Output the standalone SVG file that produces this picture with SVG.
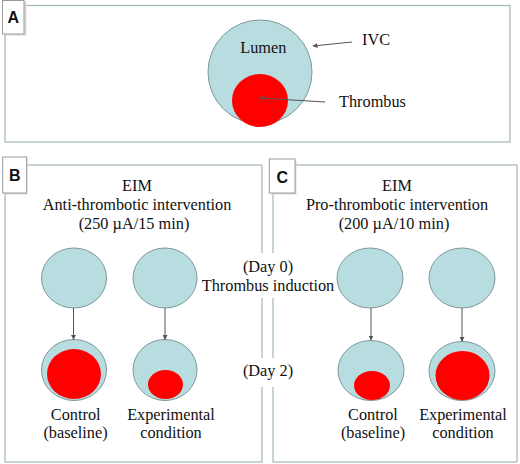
<svg xmlns="http://www.w3.org/2000/svg" width="520" height="464" viewBox="0 0 520 464">
<defs>
<marker id="ah" viewBox="0 0 10 10" refX="9" refY="5" markerWidth="5" markerHeight="5" orient="auto" markerUnits="userSpaceOnUse">
<path d="M0,0 L10,5 L0,10 z" fill="#555"/>
</marker>
<style>
.panel{fill:#fff;stroke:#a3b8b8;stroke-width:1.2}
.lab{fill:#fff;stroke:#9a9a9a;stroke-width:1}
.shadow{fill:#d8d8d8}
.labt{font-family:'Liberation Sans',Arial,sans-serif;font-weight:bold;font-size:16px;fill:#111;text-anchor:middle}
.t{font-family:'Liberation Serif','DejaVu Serif',serif;font-size:16.3px;fill:#111;text-anchor:middle}
.ts{font-family:'Liberation Serif','DejaVu Serif',serif;font-size:16.3px;fill:#111}
.ves{fill:#b8dde1;stroke:#7f9799;stroke-width:1}
.thr{fill:#ff0000}
.con{stroke:#555;stroke-width:1;fill:none;marker-end:url(#ah)}
</style>
</defs>
<rect width="520" height="464" fill="#fff"/>

<g id="panelA">
<rect class="panel" x="5" y="5.5" width="505" height="136.5"/>
<rect class="shadow" x="4.5" y="1.5" width="22" height="34"/>
<rect class="lab" x="2.5" y="0.5" width="21.5" height="33.5"/>
<text class="labt" x="13.3" y="23">A</text>
</g>
<g id="panelB">
<rect class="panel" x="5" y="165" width="257" height="297"/>
<rect class="shadow" x="4.5" y="158.5" width="23" height="36"/>
<rect class="lab" x="2.7" y="157" width="24" height="36"/>
<text class="labt" x="14.7" y="181">B</text>
<text class="t" x="137" y="190.5" font-family="Liberation Serif, serif">EIM</text>
<text class="t" x="137" y="210" font-family="Liberation Serif, serif">Anti-thrombotic intervention</text>
<text class="t" x="134" y="229.3" font-family="Liberation Serif, serif">(250 µA/15 min)</text>
</g>
<g id="panelC">
<rect class="panel" x="273" y="165" width="244" height="297"/>
<rect class="shadow" x="271" y="160.5" width="25.5" height="34"/>
<rect class="lab" x="269.3" y="159" width="25.7" height="34"/>
<text class="labt" x="282.2" y="182.5">C</text>
<text class="t" x="397" y="190.5">EIM</text>
<text class="t" x="397" y="210">Pro-thrombotic intervention</text>
<text class="t" x="394" y="229.3">(200 µA/10 min)</text>
</g>

<g id="mid-labels">
<rect x="238" y="253" width="62" height="45" fill="#fff"/>
<rect x="238" y="358" width="62" height="29" fill="#fff"/>
<text class="t" x="268" y="272">(Day 0)</text>
<text class="t" x="268" y="291">Thrombus induction</text>
<text class="t" x="268" y="376">(Day 2)</text>
</g>

<g id="ivcA">
<circle class="ves" cx="260" cy="72" r="52"/>
<ellipse class="thr" cx="260" cy="100.5" rx="28" ry="26.5"/>
<text class="t" x="263.3" y="53.3">Lumen</text>
<text class="ts" x="362" y="45">IVC</text>
<text class="ts" x="339" y="107.3">Thrombus</text>
</g>

<g id="B-ctrl-d0"><ellipse class="ves" cx="74" cy="278" rx="32.5" ry="30"/></g>
<g id="B-exp-d0"><ellipse class="ves" cx="165" cy="278" rx="32" ry="30"/></g>
<g id="B-ctrl-d2">
<ellipse class="ves" cx="74" cy="370" rx="32.5" ry="30.5"/>
<ellipse class="thr" cx="74" cy="374" rx="27" ry="25"/>
<text class="t" x="75.7" y="420">Control</text>
<text class="t" x="75.5" y="437.5">(baseline)</text>
</g>
<g id="B-exp-d2">
<ellipse class="ves" cx="165" cy="370" rx="32" ry="30.5"/>
<ellipse class="thr" cx="165.5" cy="384.5" rx="17.5" ry="14.5"/>
<text class="t" x="171" y="420">Experimental</text>
<text class="t" x="171" y="437.5">condition</text>
</g>

<g id="C-ctrl-d0"><ellipse class="ves" cx="370" cy="278" rx="33" ry="30"/></g>
<g id="C-exp-d0"><ellipse class="ves" cx="462" cy="278" rx="33" ry="30"/></g>
<g id="C-ctrl-d2">
<ellipse class="ves" cx="371" cy="370.5" rx="33" ry="30"/>
<ellipse class="thr" cx="372" cy="385.5" rx="18" ry="14.5"/>
<text class="t" x="373" y="420">Control</text>
<text class="t" x="373" y="437.5">(baseline)</text>
</g>
<g id="C-exp-d2">
<ellipse class="ves" cx="462" cy="371" rx="33" ry="29.5"/>
<ellipse class="thr" cx="462.5" cy="375.5" rx="27" ry="24.5"/>
<text class="t" x="463" y="420">Experimental</text>
<text class="t" x="463" y="437.5">condition</text>
</g>

<g id="connectors">
<line class="con" x1="352" y1="42" x2="313" y2="46"/>
<line class="con" x1="325" y1="102" x2="260" y2="98"/>
<line class="con" x1="73.5" y1="308" x2="73.5" y2="339.5"/>
<line class="con" x1="165" y1="308" x2="165" y2="339.5"/>
<line class="con" x1="371" y1="308" x2="371" y2="340"/>
<line class="con" x1="462" y1="308" x2="462" y2="341.5"/>
</g>
</svg>
